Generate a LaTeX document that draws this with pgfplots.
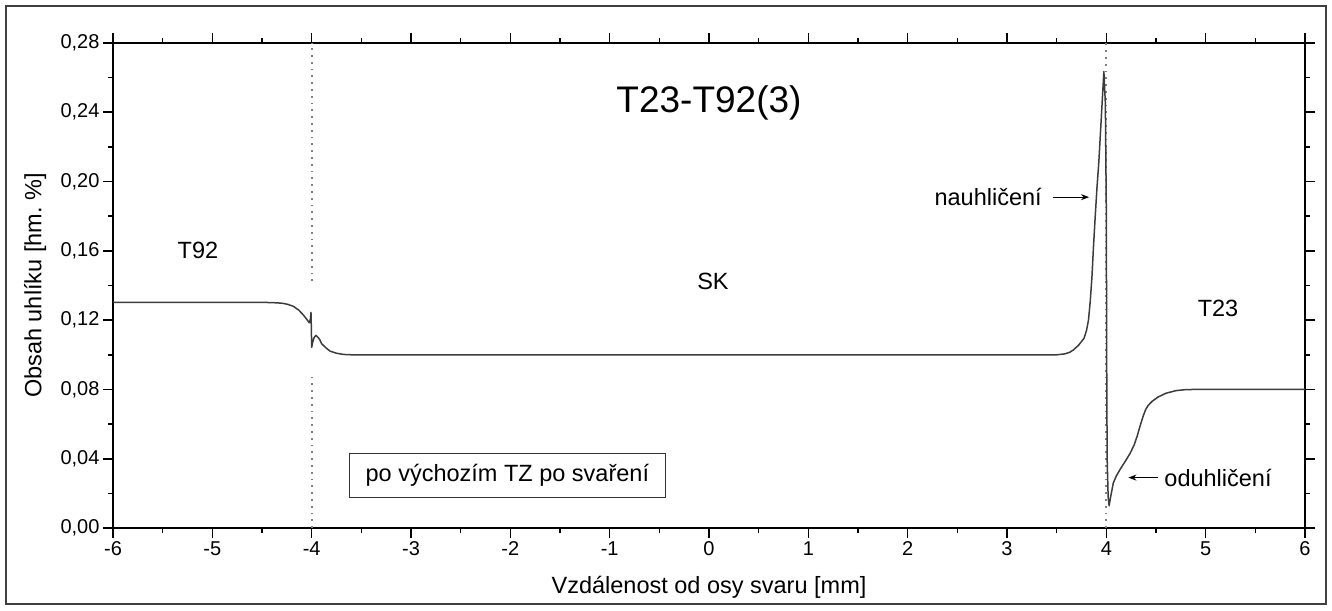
\documentclass[border=0pt]{standalone}
\usepackage{fontspec}
\setmainfont{Liberation Sans}
\usepackage{pgfplots}
\pgfplotsset{compat=1.18}
\usetikzlibrary{arrows.meta}
\definecolor{curve}{RGB}{60,60,60}
\begin{document}
\begin{tikzpicture}
\begin{axis}[
  at={(113pt,82pt)}, anchor=south west,
  scale only axis, width=1192pt, height=485pt,
  xmin=-6, xmax=6, ymin=0, ymax=0.28,
  xtick={-6,-5,-4,-3,-2,-1,0,1,2,3,4,5,6},
  ytick={0,0.04,0.08,0.12,0.16,0.2,0.24,0.28},
  minor x tick num=1, minor y tick num=1,
  scaled y ticks=false,
  tick align=outside,
  major tick length=10pt, minor tick length=5pt,
  tick style={black, line width=1.6pt},
  axis line style={black, line width=1.8pt},
  /pgf/number format/assume math mode=true,
  y tick label style={/pgf/number format/.cd, fixed, fixed zerofill, precision=2, use comma},
  tick label style={font=\fontsize{20}{24}\selectfont},
  label style={font=\fontsize{23.5}{28}\selectfont},
  xlabel={Vzdálenost od osy svaru [mm]},
  ylabel={Obsah uhlíku [hm.\ \%]},
  xlabel style={at={(axis description cs:0.5,-0.136)}, anchor=base},
  ylabel style={at={(axis description cs:-0.0654,0.5)}, anchor=center},
  clip=false,
]
% dotted boundaries
\addplot[gray, line width=1.8pt, dash pattern=on 1.8pt off 5pt] coordinates {(-4,0.1425) (-4,0.28)};
\addplot[gray, line width=1.8pt, dash pattern=on 1.8pt off 5pt] coordinates {(-4,0) (-4,0.0882)};
\addplot[gray, line width=1.8pt, dash pattern=on 1.8pt off 5pt] coordinates {(4,0) (4,0.28)};
% carbon profile
\addplot[curve, line width=1.5pt, line join=round] table {
x y
-6.000 0.1303
-4.500 0.1303
-4.350 0.1300
-4.290 0.1297
-4.240 0.1291
-4.185 0.1280
-4.130 0.1258
-4.084 0.1230
-4.050 0.1205
-4.030 0.1189
-4.022 0.1185
-4.012 0.1210
-4.007 0.1245
-4.003 0.1150
-4.000 0.1043
-3.990 0.1072
-3.975 0.1100
-3.956 0.1112
-3.935 0.1100
-3.916 0.1085
-3.900 0.1064
-3.850 0.1037
-3.815 0.1021
-3.750 0.1009
-3.680 0.1002
-3.600 0.1000
3.500 0.1000
3.580 0.1005
3.630 0.1014
3.668 0.1028
3.720 0.1055
3.775 0.1095
3.800 0.1140
3.820 0.1200
3.838 0.1310
3.855 0.1450
3.870 0.1620
3.888 0.1800
3.905 0.1960
3.925 0.2120
3.955 0.2430
3.975 0.2635
3.990 0.2450
4.000 0.1800
4.003 0.1000
4.008 0.0400
4.018 0.0180
4.028 0.0128
4.040 0.0170
4.070 0.0260
4.100 0.0300
4.140 0.0340
4.190 0.0385
4.240 0.0432
4.280 0.0480
4.310 0.0530
4.340 0.0590
4.370 0.0645
4.395 0.0683
4.420 0.0707
4.460 0.0731
4.520 0.0756
4.600 0.0778
4.700 0.0793
4.800 0.0799
4.900 0.0800
6.000 0.0800
};
% annotations
\node[font=\fontsize{37}{40}\selectfont] at (axis cs:0.0,0.2456) {T23-T92(3)};
\node[font=\fontsize{23.5}{28}\selectfont] at (axis cs:-5.145,0.1605) {T92};
\node[font=\fontsize{23.5}{28}\selectfont] at (axis cs:0.04,0.1425) {SK};
\node[font=\fontsize{23.5}{28}\selectfont] at (axis cs:5.124,0.1265) {T23};
\node[font=\fontsize{23.5}{28}\selectfont] at (axis cs:2.81,0.191) {nauhličení};
\draw[line width=1.2pt, -{Stealth[length=8pt,width=6pt]}] (axis cs:3.46,0.191) -- (axis cs:3.826,0.191);
\node[font=\fontsize{23.5}{28}\selectfont] at (axis cs:5.124,0.0291) {oduhličení};
\draw[line width=1.2pt, -{Stealth[length=8pt,width=6pt]}] (axis cs:4.515,0.0291) -- (axis cs:4.222,0.0291);
\node[draw=black!80, line width=1.3pt, minimum width=316pt, minimum height=44pt, font=\fontsize{23.5}{28}\selectfont] at (axis cs:-2.03,0.0304) {po výchozím TZ po svaření};
\end{axis}
\pgfresetboundingbox
\useasboundingbox (0,0) rectangle (1332pt,610pt);
\draw[black!75, line width=1.2pt] (6pt,6pt) rectangle (1326pt,604pt);
\end{tikzpicture}
\end{document}
